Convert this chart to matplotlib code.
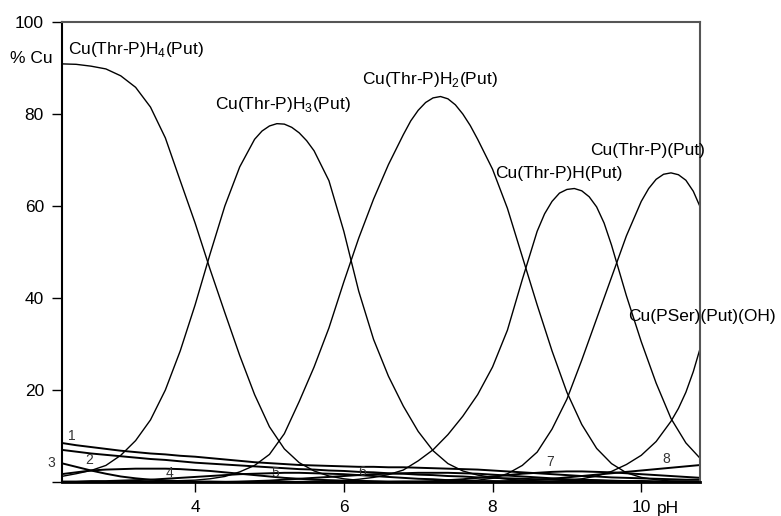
import numpy as np
import matplotlib
matplotlib.use("Agg")
import matplotlib.pyplot as plt
import matplotlib.transforms as mtransforms

plt.rcParams['font.family'] = ['Liberation Sans', 'DejaVu Sans']

# main species (% Cu), each with its own pH readings (denser near the peaks)
h4_ph = [2.2, 2.4, 2.6, 2.8, 3.0, 3.2, 3.4, 3.6, 3.8, 4.0, 4.2, 4.4, 4.6, 4.8,
         5.0, 5.2, 5.4, 5.6, 5.8, 6.0, 6.2, 6.4, 6.6, 10.8]
h4 = [90.9, 90.8, 90.4, 89.8, 88.3, 85.8, 81.5, 74.8, 65.5, 56.3, 46.3, 36.8, 27.5, 19.0,
      12.0, 7.2, 4.2, 2.4, 1.3, 0.7, 0.35, 0.15, 0.05, 0]

h3_ph = [2.2, 2.4, 2.6, 2.8, 3.0, 3.2, 3.4, 3.6, 3.8, 4.0, 4.2, 4.4, 4.6, 4.8,
         4.9, 5.0, 5.1, 5.2, 5.3, 5.4, 5.5, 5.6, 5.8, 6.0, 6.2, 6.4, 6.6, 6.8,
         7.0, 7.2, 7.4, 7.6, 7.8, 8.0, 8.2, 8.4, 8.6, 8.8, 9.0, 10.8]
h3 = [1.2, 1.8, 2.5, 3.6, 5.8, 9.0, 13.5, 20.0, 28.5, 38.5, 49.5, 60.0, 68.5, 74.5,
      76.3, 77.4, 77.9, 77.8, 77.1, 75.9, 74.2, 72.0, 65.5, 54.5, 41.5, 31.0, 23.0, 16.5,
      11.0, 6.8, 4.0, 2.4, 1.5, 1.0, 0.6, 0.4, 0.25, 0.15, 0.1, 0]

h2_ph = [2.2, 3.0, 3.6, 4.0, 4.2, 4.4, 4.6, 4.8, 5.0, 5.2, 5.4, 5.6, 5.8, 6.0,
         6.2, 6.4, 6.6, 6.8, 6.9, 7.0, 7.1, 7.2, 7.3, 7.4, 7.5, 7.6, 7.7, 7.8,
         8.0, 8.2, 8.4, 8.6, 8.8, 9.0, 9.2, 9.4, 9.6, 9.8, 10.0, 10.2, 10.4, 10.8]
h2 = [0.05, 0.1, 0.2, 0.4, 0.7, 1.2, 2.2, 3.6, 6.0, 10.5, 17.5, 25.0, 33.5, 43.5,
      53.0, 61.5, 69.0, 75.5, 78.5, 80.8, 82.5, 83.5, 83.8, 83.3, 82.0, 80.0, 77.5, 74.5,
      68.0, 59.5, 49.0, 38.5, 28.5, 19.5, 12.5, 7.3, 4.0, 2.0, 1.0, 0.5, 0.2, 0.05]

h1_ph = [2.2, 5.0, 5.4, 5.8, 6.0, 6.2, 6.4, 6.6, 6.8, 7.0, 7.2, 7.4, 7.6, 7.8,
         8.0, 8.2, 8.4, 8.6, 8.7, 8.8, 8.9, 9.0, 9.1, 9.2, 9.3, 9.4, 9.5, 9.6,
         9.8, 10.0, 10.2, 10.4, 10.6, 10.8]
h1 = [0, 0.05, 0.1, 0.2, 0.3, 0.6, 1.0, 1.6, 2.6, 4.6, 7.0, 10.3, 14.3, 19.0,
      25.0, 33.0, 44.0, 54.5, 58.3, 61.0, 62.8, 63.6, 63.8, 63.3, 62.0, 59.8, 56.3, 51.5,
      40.5, 30.5, 21.5, 13.8, 8.5, 5.0]

h0_ph = [2.2, 7.4, 7.6, 7.8, 8.0, 8.2, 8.4, 8.6, 8.8, 9.0, 9.2, 9.4, 9.6, 9.8,
         10.0, 10.1, 10.2, 10.3, 10.4, 10.5, 10.6, 10.7, 10.8]
h0 = [0, 0.1, 0.2, 0.4, 0.8, 1.8, 3.6, 6.5, 11.5, 18.0, 26.5, 35.5, 44.5, 53.5,
      61.0, 63.8, 65.8, 66.9, 67.2, 66.8, 65.6, 63.2, 59.5]

oh_ph = [2.2, 8.6, 8.8, 9.0, 9.2, 9.4, 9.6, 9.8, 10.0, 10.2, 10.4, 10.5, 10.6, 10.7, 10.8]
oh = [0, 0.05, 0.1, 0.3, 0.7, 1.3, 2.3, 3.8, 5.8, 8.8, 13.2, 16.0, 19.5, 24.0, 29.5]

# minor species 1-8 on a common pH grid, 2.2 ... 10.8 in steps of 0.2
ph = np.round(np.linspace(2.2, 10.8, 44), 1)
m1 = [8.5, 8.0, 7.6, 7.2, 6.8, 6.5, 6.2, 6.0, 5.7, 5.5,
      5.2, 4.9, 4.6, 4.3, 4.1, 3.9, 3.7, 3.6, 3.5, 3.4,
      3.3, 3.3, 3.2, 3.2, 3.1, 3.0, 2.9, 2.8, 2.7, 2.5,
      2.3, 2.1, 1.9, 1.7, 1.5, 1.3, 1.2, 1.0, 0.9, 0.8,
      0.7, 0.6, 0.5, 0.5]
m2 = [7.0, 6.6, 6.2, 5.9, 5.6, 5.3, 5.0, 4.8, 4.5, 4.2,
      4.0, 3.8, 3.6, 3.4, 3.2, 3.0, 2.8, 2.7, 2.5, 2.4,
      2.2, 2.1, 1.9, 1.8, 1.6, 1.5, 1.3, 1.2, 1.0, 0.9,
      0.8, 0.7, 0.6, 0.5, 0.4, 0.3, 0.3, 0.2, 0.2, 0.2,
      0.1, 0.1, 0.1, 0.1]
m3 = [4.1, 3.3, 2.5, 1.8, 1.2, 0.8, 0.5, 0.3, 0.2, 0.1,
      0.1, 0.05] + [0] * 32
m4 = [1.7, 2.1, 2.5, 2.7, 2.8, 2.9, 2.9, 2.9, 2.8, 2.6,
      2.4, 2.1, 1.8, 1.5, 1.2, 0.9, 0.7, 0.5, 0.4, 0.3,
      0.2, 0.15, 0.1, 0.1, 0.05] + [0] * 19
m5 = [0.1, 0.1, 0.2, 0.2, 0.3, 0.4, 0.5, 0.7, 0.9, 1.1,
      1.3, 1.5, 1.7, 1.8, 1.9, 2.0, 2.0, 1.9, 1.8, 1.7,
      1.5, 1.3, 1.1, 0.9, 0.7, 0.6, 0.4, 0.3, 0.2, 0.2,
      0.1, 0.1, 0.05, 0.05] + [0] * 10
m6 = [0] * 12 + [0.1, 0.2, 0.3, 0.5, 0.7, 0.9, 1.1, 1.3,
                 1.5, 1.7, 1.8, 1.9, 2.0, 2.0, 2.0, 1.9, 1.8, 1.6,
                 1.4, 1.2, 1.0, 0.8, 0.6, 0.5, 0.4, 0.3, 0.2, 0.2,
                 0.1, 0.1, 0.05, 0.05]
m7 = [0] * 23 + [0.05, 0.1, 0.2, 0.4, 0.6, 0.9, 1.2, 1.5, 1.8, 2.0,
                 2.2, 2.3, 2.3, 2.2, 2.1, 1.9, 1.7, 1.5, 1.3, 1.1, 0.9]
m8 = [0] * 29 + [0.1, 0.2, 0.3, 0.5, 0.7, 1.0, 1.3, 1.6, 1.9, 2.2,
                 2.5, 2.8, 3.1, 3.4, 3.7]

major = [(h4_ph, h4), (h3_ph, h3), (h2_ph, h2), (h1_ph, h1), (h0_ph, h0), (oh_ph, oh)]
minor = [m1, m2, m3, m4, m5, m6, m7, m8]

major_labels = ['Cu(Thr-P)H$_\\mathregular{4}$(Put)', 'Cu(Thr-P)H$_\\mathregular{3}$(Put)',
                'Cu(Thr-P)H$_\\mathregular{2}$(Put)', 'Cu(Thr-P)H(Put)',
                'Cu(Thr-P)(Put)', 'Cu(PSer)(Put)(OH)']
major_pos = [(2.29, 94), (4.27, 82), (6.24, 87.5), (8.03, 67), (9.31, 72), (9.82, 36)]
minor_pos = [(2.34, 10), (2.58, 4.8), (2.07, 4.1), (3.65, 2.0),
             (5.08, 2.0), (6.25, 2.2), (8.77, 4.3), (10.34, 5.0)]

fig = plt.figure(figsize=(7.81, 5.16), dpi=100)
ax = fig.add_axes([62 / 781, 1 - 482 / 516, 638 / 781, 460 / 516])

for x, y in major:
    ax.plot(x, y, color='black', lw=1.0)
for s in minor:
    ax.plot(ph, s, color='black', lw=1.4)

for lab, (x, y) in zip(major_labels, major_pos):
    ax.text(x, y, lab, fontsize=12.5, ha='left', va='center', clip_on=False)
for i, (x, y) in enumerate(minor_pos):
    ax.text(x, y, str(i + 1), fontsize=10, color='#333333', ha='center', va='center', clip_on=False)

ax.set_xlim(2.21, 10.79)
ax.set_ylim(0, 100)
ax.set_xticks([4, 6, 8, 10])
ax.set_xticklabels(['4', '6', '8', '10'])
ax.set_yticks([0, 20, 40, 60, 80, 100])
ax.set_yticklabels(['', '20', '40', '60', '80', '100'])
ax.tick_params(axis='both', direction='out', length=7, width=1, labelsize=12.5, colors='black')
ax.tick_params(axis='x', pad=6)
ax.tick_params(axis='y', pad=6)

for side in ['left', 'bottom']:
    ax.spines[side].set_color('black')
ax.spines['left'].set_linewidth(1.5)
ax.spines['bottom'].set_linewidth(2.0)
for side in ['top', 'right']:
    ax.spines[side].set_color('#555555')
    ax.spines[side].set_linewidth(1.5)

# axis captions
trans = mtransforms.blended_transform_factory(ax.transData, ax.transAxes)
ax.text(10.215, -0.057, 'pH', transform=trans, fontsize=12.5, ha='left', va='center')
trans_y = mtransforms.blended_transform_factory(ax.transAxes, ax.transData)
ax.text(-0.014, 92, '% Cu', transform=trans_y, fontsize=12.5, ha='right', va='center')

fig.savefig('out.png', dpi=100)
